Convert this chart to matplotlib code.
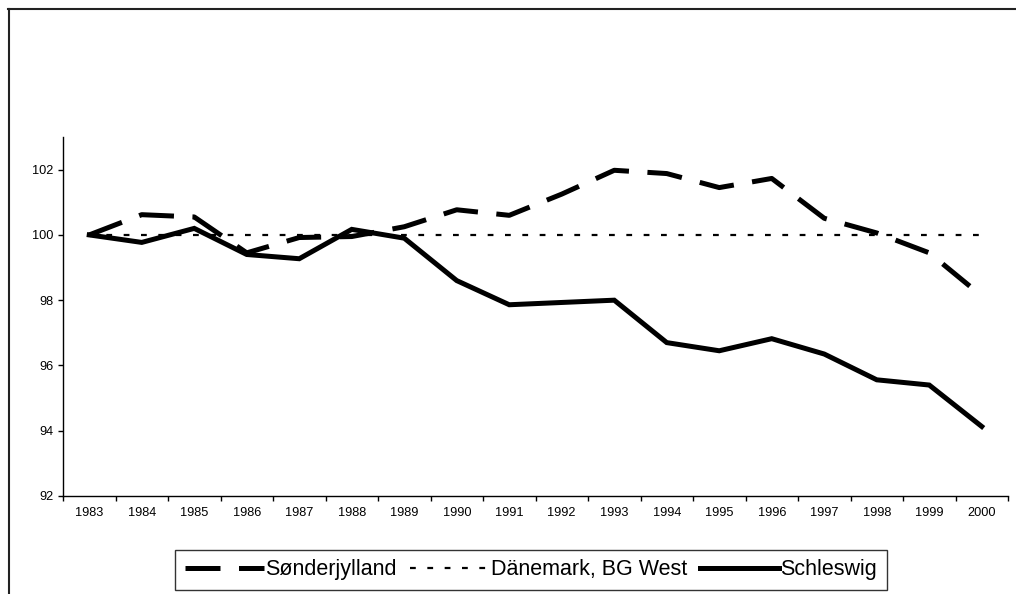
import matplotlib
matplotlib.use("Agg")
import matplotlib.pyplot as plt
from matplotlib.lines import Line2D
import numpy as np

plt.rcParams['font.family'] = ['Liberation Sans', 'DejaVu Sans']

# values (index, 1983 = 100)
years = [str(y) for y in range(1983, 2001)]
soenderjylland = [100, 100.62, 100.55, 99.45, 99.92, 99.95, 100.25, 100.77, 100.6,
                  101.25, 101.98, 101.88, 101.45, 101.73, 100.51, 100.06, 99.45, 98.13]
daenemark = [100] * 18
schleswig = [100, 99.77, 100.2, 99.4, 99.27, 100.17, 99.9, 98.6, 97.86,
             97.93, 98.0, 96.7, 96.45, 96.82, 96.35, 95.56, 95.40, 94.13]
y_ticks = [92, 94, 96, 98, 100, 102]

W, H = 1016, 594
fig = plt.figure(figsize=(W / 100, H / 100), dpi=100)
ax = fig.add_axes([63 / W, 1 - 496 / H, (1008 - 63) / W, (496 - 137) / H])

x = np.arange(len(years))
ax.plot(x, soenderjylland, color='black', lw=3.6, dashes=(7, 3.7),
        solid_capstyle='butt', dash_capstyle='butt', label='Sønderjylland')
ax.plot(x, daenemark, color='black', lw=1.6, dashes=(2.6, 5.2),
        dash_capstyle='butt', label='Dänemark, BG West')
ax.plot(x, schleswig, color='black', lw=3.6, solid_joinstyle='miter',
        label='Schleswig')

ax.set_xlim(-0.5, len(years) - 0.5)
ax.set_ylim(92, 103)
ax.set_yticks(y_ticks)
ax.set_yticklabels([str(v) for v in y_ticks])

# category axis: tick marks between the categories, labels in the middle
ax.set_xticks(np.arange(len(years) + 1) - 0.5)
ax.set_xticklabels([])
ax.set_xticks(x, minor=True)
ax.set_xticklabels(years, minor=True)
ax.tick_params(axis='x', which='major', direction='out', length=3.6, width=1)
ax.tick_params(axis='x', which='minor', length=0, pad=8, labelsize=9.2)
ax.tick_params(axis='y', direction='out', length=3.6, width=1, pad=3.5, labelsize=9.2)

for side in ['top', 'right']:
    ax.spines[side].set_visible(False)
for side in ['left', 'bottom']:
    ax.spines[side].set_linewidth(1)

leg = fig.legend(loc='center', bbox_to_anchor=(531 / W, 1 - 570 / H), ncol=3,
                 fontsize=15.5, frameon=True, fancybox=False, handlelength=3.7,
                 handletextpad=0.05, columnspacing=0.6, borderpad=0.45,
                 borderaxespad=0)
leg.get_frame().set_edgecolor('black')
leg.get_frame().set_linewidth(1)

# outer chart border (runs off the right and bottom edge)
fig.add_artist(Line2D([8 / W, 1.01], [1 - 8.5 / H, 1 - 8.5 / H], color='#222222',
                      lw=1.5, transform=fig.transFigure))
fig.add_artist(Line2D([8.5 / W, 8.5 / W], [1 - 8.5 / H, -0.01], color='#222222',
                      lw=1.5, transform=fig.transFigure))

fig.savefig('out.png', dpi=100)
